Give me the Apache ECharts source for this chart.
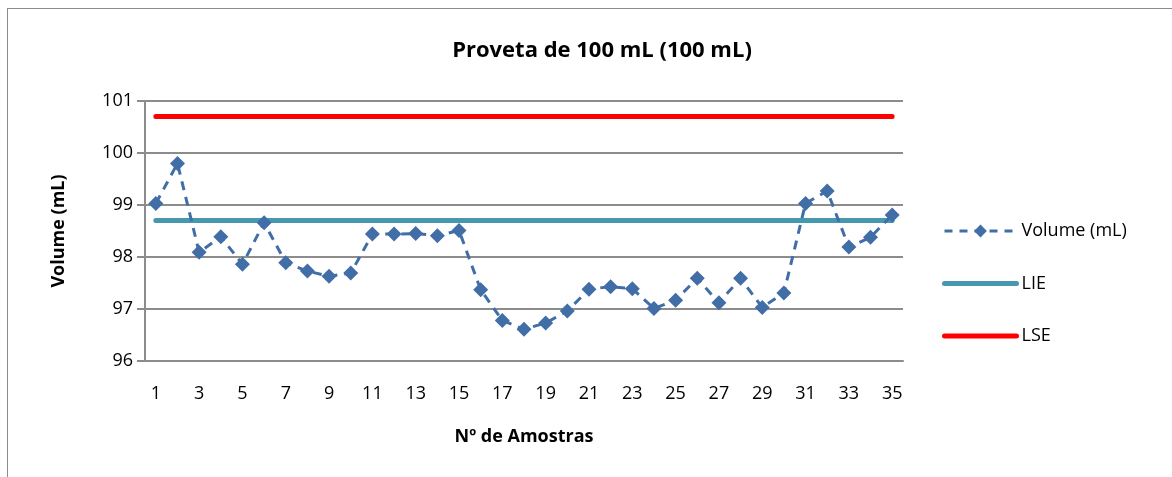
<!DOCTYPE html>
<html>
<head>
<meta charset="utf-8">
<script src="https://cdn.jsdelivr.net/npm/echarts@6/dist/echarts.min.js"></script>
<style>
  html, body { margin: 0; padding: 0; background: #fff; }
  #frame {
    position: absolute; left: 7px; top: 8px;
    width: 1200px; height: 500px;
    border: 1px solid #8c8c8c; box-sizing: border-box;
  }
  #chartBox { position: absolute; left: 0; top: 0; width: 1172px; height: 477px; }
</style>
</head>
<body>
<div id="frame"></div>
<div id="chartBox"></div>
<script>
var amostras = ["1","2","3","4","5","6","7","8","9","10","11","12","13","14","15","16","17","18",
  "19","20","21","22","23","24","25","26","27","28","29","30","31","32","33","34","35"];
var volume = [99.03, 99.80, 98.09, 98.39, 97.86, 98.66, 97.89, 97.73, 97.63, 97.69,
  98.44, 98.44, 98.45, 98.41, 98.51, 97.37, 96.78, 96.61, 96.73, 96.96,
  97.38, 97.43, 97.39, 97.01, 97.17, 97.59, 97.12, 97.59, 97.03, 97.31,
  99.03, 99.27, 98.19, 98.38, 98.81];
var lie = [98.7, 98.7, 98.7, 98.7, 98.7, 98.7, 98.7, 98.7, 98.7, 98.7,
  98.7, 98.7, 98.7, 98.7, 98.7, 98.7, 98.7, 98.7, 98.7, 98.7,
  98.7, 98.7, 98.7, 98.7, 98.7, 98.7, 98.7, 98.7, 98.7, 98.7,
  98.7, 98.7, 98.7, 98.7, 98.7];
var lse = [100.7, 100.7, 100.7, 100.7, 100.7, 100.7, 100.7, 100.7, 100.7, 100.7,
  100.7, 100.7, 100.7, 100.7, 100.7, 100.7, 100.7, 100.7, 100.7, 100.7,
  100.7, 100.7, 100.7, 100.7, 100.7, 100.7, 100.7, 100.7, 100.7, 100.7,
  100.7, 100.7, 100.7, 100.7, 100.7];

var fontFam = "'Open Sans', 'Noto Sans', sans-serif";
var chart = echarts.init(document.getElementById("chartBox"));
var option = {
  animation: false,
  textStyle: { fontFamily: fontFam },
  title: {
    text: "Proveta de 100 mL (100 mL)",
    left: 597, top: 35, textAlign: "center",
    textStyle: { fontSize: 22, fontWeight: "bold", color: "#000", fontFamily: fontFam }
  },
  legend: {
    orient: "vertical",
    left: 937, top: 217,
    itemWidth: 72, itemHeight: 16, itemGap: 34.5,
    textStyle: { fontSize: 18, color: "#000" },
    data: [
      { name: "Volume (mL)", lineStyle: { width: 3, type: [8, 7] } },
      { name: "LIE", itemStyle: { opacity: 0 }, lineStyle: { width: 5, cap: "round" } },
      { name: "LSE", itemStyle: { opacity: 0 }, lineStyle: { width: 5, cap: "round" } }
    ]
  },
  grid: { left: 145, right: 269, top: 101, bottom: 116 },
  xAxis: {
    type: "category",
    data: amostras,
    boundaryGap: true,
    name: "Nº de Amostras",
    nameLocation: "middle",
    nameGap: 67,
    nameTextStyle: { fontSize: 18, fontWeight: "bold", color: "#000" },
    axisLine: { lineStyle: { color: "#8c8c8c", width: 2 } },
    axisTick: { show: false },
    axisLabel: { interval: 1, fontSize: 18, color: "#000", margin: 24 }
  },
  yAxis: {
    type: "value",
    min: 96, max: 101, interval: 1,
    name: "Volume (mL)",
    nameLocation: "middle",
    nameGap: 77,
    nameTextStyle: { fontSize: 18, fontWeight: "bold", color: "#000" },
    axisLine: { show: true, lineStyle: { color: "#8c8c8c", width: 2 } },
    axisTick: { show: true, length: 8, lineStyle: { color: "#8c8c8c", width: 2 } },
    axisLabel: { fontSize: 18, color: "#000", margin: 12 },
    splitLine: { lineStyle: { color: "#8c8c8c", width: 2 } }
  },
  series: [
    {
      name: "Volume (mL)",
      type: "line",
      data: volume,
      symbol: "diamond",
      symbolSize: 15,
      showAllSymbol: true,
      itemStyle: { color: "#416ea6" },
      lineStyle: { color: "#416ea6", width: 3, type: [9, 7] },
      z: 3
    },
    {
      name: "LIE",
      type: "line",
      data: lie,
      symbol: "none",
      itemStyle: { color: "#4698ae" },
      lineStyle: { color: "#4698ae", width: 5, cap: "round" },
      z: 2
    },
    {
      name: "LSE",
      type: "line",
      data: lse,
      symbol: "none",
      itemStyle: { color: "#ff0000" },
      lineStyle: { color: "#ff0000", width: 5, cap: "round" },
      z: 2
    }
  ]
};
chart.setOption(option);
</script>
</body>
</html>
